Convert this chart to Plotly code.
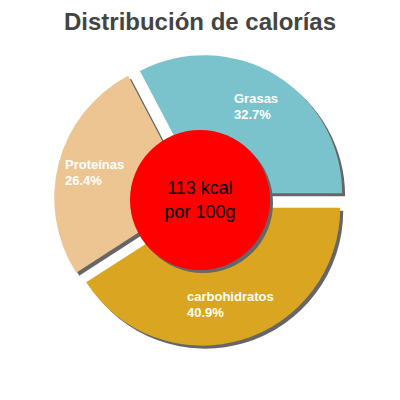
import math
import plotly.graph_objects as go

# data
labels = ["carbohidratos", "Proteínas", "Grasas"]
values = [40.9, 26.4, 32.7]
colors = ["#DAA520", "#EDC592", "#7AC3CC"]
center_text = ["113 kcal", "por 100g"]
title_text = "Distribución de calorías"

FONT = "Liberation Sans, Arial, sans-serif"
W = 400
ROT = 90          # first slice starts at 3 o'clock, clockwise
pull = 0.058
pie_dom = [0.135, 0.865]
red_dom = [0.325, 0.675]
sh = 3 / W        # shadow offset
r_text = 109      # px from pie centre to label block
lab_size = 13

fig = go.Figure()


def shift(d, dx):
  return [d[0] + dx, d[1] + dx]


# shadows
fig.add_trace(go.Pie(labels=labels, values=values, sort=False, direction="clockwise", rotation=ROT,
                     pull=pull, hole=0.42, marker=dict(colors=["#666666"] * 3),
                     textinfo="none", hoverinfo="skip", showlegend=False,
                     domain=dict(x=shift(pie_dom, sh), y=shift(pie_dom, -sh))))

fig.add_trace(go.Pie(labels=labels, values=values, sort=False, direction="clockwise", rotation=ROT,
                     pull=pull, hole=0.42, marker=dict(colors=colors),
                     textinfo="none", hoverinfo="skip", showlegend=False,
                     domain=dict(x=pie_dom, y=pie_dom)))

# red centre with its shadow
fig.add_trace(go.Pie(labels=["s"], values=[1], marker=dict(colors=["#666666"]),
                     textinfo="none", hoverinfo="skip", showlegend=False,
                     domain=dict(x=shift(red_dom, sh), y=shift(red_dom, -sh))))
fig.add_trace(go.Pie(labels=["c"], values=[1], marker=dict(colors=["#FF0000"]),
                     texttemplate="<br>".join(center_text), textposition="inside",
                     insidetextfont=dict(color="black", size=18, family=FONT),
                     hoverinfo="skip", showlegend=False,
                     domain=dict(x=red_dom, y=red_dom)))

# slice labels: left aligned blocks centred on each slice's mid angle
total = sum(values)
start = ROT
cx = cy = W / 2
span = "<span style='font-size:%dpx'>%s</span>"
for lab, v in zip(labels, values):
  ang = start + 360 * v / total / 2
  start += 360 * v / total
  px = cx + r_text * math.sin(math.radians(ang))
  py = cy - r_text * math.cos(math.radians(ang))
  pct = f"{v / total * 100:.1f}%"
  # base font sets the line gap
  fig.add_annotation(x=px / W, y=1 - py / W, xref="paper", yref="paper",
                     text="<b>" + span % (lab_size, lab) + "<br>" + span % (lab_size, pct) + "</b>",
                     showarrow=False, xanchor="center", yanchor="middle", align="left",
                     font=dict(color="white", size=12, family=FONT))

fig.update_layout(
  width=W, height=W,
  margin=dict(l=0, r=0, t=0, b=0),
  paper_bgcolor="white",
  title=dict(text="<b>" + title_text + "</b>", x=0.5, xanchor="center", y=0.945, yanchor="middle",
             font=dict(size=24, color="#444444", family=FONT)),
)

fig.write_html("out.html", config={"displayModeBar": False},
               post_script="document.body.style.margin='0px';")
